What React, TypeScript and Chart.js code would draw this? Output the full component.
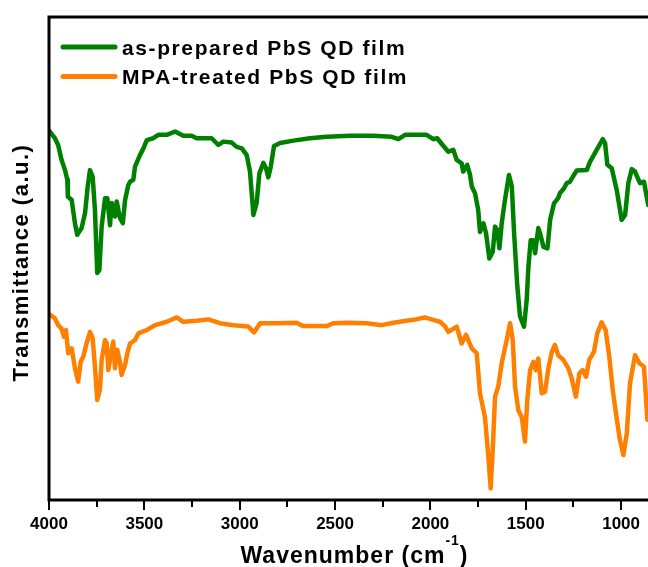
import React, { useEffect, useRef } from "react";
import { Chart, registerables } from "chart.js";

Chart.register(...registerables);

const seriesNames = ["as-prepared PbS QD film", "MPA-treated PbS QD film"];
const seriesColors = ["rgb(0,128,0)", "rgb(255,128,0)"];

const greenWavenumbers = [4000, 3969, 3952, 3934, 3916, 3904, 3901, 3881, 3864, 3852, 3829, 3811, 3797, 3785, 3771, 3759, 3747, 3736, 3724, 3706, 3694, 3680, 3671, 3654, 3645, 3628, 3613, 3601, 3584, 3575, 3558, 3549, 3523, 3505, 3487, 3453, 3427, 3382, 3339, 3296, 3252, 3226, 3147, 3112, 3086, 3042, 3016, 2989, 2963, 2946, 2928, 2911, 2897, 2876, 2862, 2850, 2837, 2820, 2788, 2718, 2632, 2544, 2422, 2299, 2203, 2168, 2133, 2072, 2020, 1985, 1964, 1936, 1906, 1880, 1862, 1836, 1828, 1807, 1792, 1783, 1766, 1749, 1740, 1722, 1708, 1691, 1673, 1661, 1649, 1638, 1626, 1609, 1588, 1573, 1561, 1544, 1530, 1509, 1495, 1486, 1474, 1460, 1451, 1434, 1425, 1407, 1386, 1372, 1352, 1330, 1321, 1300, 1285, 1268, 1247, 1233, 1180, 1163, 1128, 1096, 1084, 1072, 1049, 1023, 997, 979, 962, 944, 927, 901, 880, 858];
const greenValues = [76.5, 74.9, 73.5, 70.4, 68.3, 66.3, 62.8, 62.1, 57.3, 54.9, 56.3, 59.4, 64.9, 68.3, 66.9, 60.0, 47.0, 47.6, 56.6, 62.5, 62.5, 56.9, 61.5, 58.7, 61.8, 58.4, 57.3, 62.1, 65.2, 65.9, 66.3, 69.0, 71.4, 72.8, 74.5, 74.9, 75.6, 75.6, 76.3, 75.4, 75.4, 74.9, 74.9, 73.5, 74.2, 74.0, 73.1, 72.8, 71.4, 68.0, 59.0, 61.5, 67.6, 69.8, 68.7, 66.8, 69.0, 73.3, 73.9, 74.4, 74.9, 75.2, 75.4, 75.4, 75.2, 74.7, 75.6, 75.6, 75.6, 74.7, 74.9, 73.5, 72.1, 72.5, 70.4, 69.7, 68.0, 69.4, 67.3, 64.9, 63.5, 60.0, 55.5, 57.3, 55.2, 50.0, 51.4, 56.6, 55.9, 52.1, 57.3, 62.1, 67.3, 64.9, 55.2, 44.2, 38.0, 35.9, 41.4, 48.3, 53.8, 53.8, 51.1, 56.3, 55.2, 52.4, 52.1, 58.0, 61.4, 62.5, 63.5, 64.5, 65.6, 65.9, 67.3, 68.2, 68.3, 70.0, 72.5, 74.7, 73.9, 69.4, 68.7, 64.2, 58.0, 59.0, 65.6, 68.5, 68.0, 65.6, 65.9, 61.1];

const orangeWavenumbers = [4000, 3969, 3952, 3934, 3922, 3911, 3899, 3881, 3864, 3847, 3834, 3820, 3803, 3785, 3771, 3759, 3747, 3733, 3724, 3706, 3697, 3689, 3676, 3663, 3654, 3642, 3628, 3619, 3601, 3589, 3575, 3549, 3531, 3487, 3444, 3382, 3330, 3296, 3226, 3165, 3103, 3034, 2955, 2925, 2893, 2806, 2702, 2667, 2544, 2509, 2439, 2334, 2255, 2194, 2090, 2029, 1967, 1950, 1924, 1906, 1862, 1836, 1813, 1783, 1757, 1740, 1714, 1696, 1684, 1673, 1661, 1644, 1626, 1600, 1582, 1568, 1556, 1539, 1521, 1504, 1492, 1477, 1460, 1447, 1434, 1416, 1399, 1381, 1363, 1347, 1330, 1303, 1277, 1259, 1237, 1219, 1202, 1184, 1167, 1142, 1125, 1102, 1081, 1062, 1044, 1023, 1006, 988, 970, 953, 927, 904, 880, 862];
const orangeValues = [38.5, 37.6, 36.2, 35.5, 33.8, 35.2, 30.4, 31.4, 27.3, 24.5, 28.6, 29.7, 32.4, 34.8, 33.5, 27.6, 20.7, 22.8, 29.0, 33.1, 32.4, 26.9, 30.0, 32.8, 27.3, 31.1, 28.6, 25.9, 28.0, 30.4, 32.4, 33.1, 34.5, 35.2, 36.2, 36.9, 37.8, 36.9, 37.1, 37.4, 36.6, 36.2, 35.9, 34.7, 36.6, 36.6, 36.7, 36.0, 36.0, 36.6, 36.7, 36.6, 36.2, 36.7, 37.3, 37.8, 37.1, 36.9, 36.0, 34.8, 35.9, 32.4, 34.2, 31.4, 30.4, 22.1, 17.2, 9.0, 2.4, 10.4, 21.4, 23.5, 28.3, 33.1, 36.6, 33.1, 23.5, 18.6, 17.2, 12.1, 20.7, 26.9, 28.6, 26.9, 29.3, 22.1, 22.4, 27.3, 30.7, 32.1, 30.0, 29.0, 27.3, 25.2, 21.4, 26.2, 26.9, 25.5, 29.0, 30.7, 34.5, 36.8, 35.2, 29.7, 22.8, 16.9, 12.4, 9.3, 13.8, 24.2, 30.0, 28.3, 27.6, 16.6];

const majorTicks = [4000, 3500, 3000, 2500, 2000, 1500, 1000];
const minorTicks = [3750, 3250, 2750, 2250, 1750, 1250];
const xTitle = "Wavenumber (cm";
const xTitleSup = "-1";
const xTitleEnd = ")";
const yTitle = "Transmittance (a.u.)";

const FONT = "'Liberation Sans', Arial, sans-serif";

const toPoints = (xs: number[], ys: number[]) =>
  xs.map((x, i) => ({ x, y: ys[i] }));

const decorPlugin = {
  id: "decor",
  afterDraw(chart: any) {
    const { ctx, chartArea } = chart;
    const xs = chart.scales.x;
    const { left, right, top, bottom } = chartArea;
    ctx.save();
    // frame
    ctx.strokeStyle = "#000";
    ctx.lineWidth = 3;
    ctx.strokeRect(left, top, right - left, bottom - top);
    // ticks
    ctx.lineWidth = 2;
    ctx.beginPath();
    majorTicks.forEach((v) => {
      const px = Math.round(xs.getPixelForValue(v));
      ctx.moveTo(px, bottom);
      ctx.lineTo(px, bottom + 10);
    });
    minorTicks.forEach((v) => {
      const px = Math.round(xs.getPixelForValue(v));
      ctx.moveTo(px, bottom);
      ctx.lineTo(px, bottom + 7);
    });
    ctx.stroke();

    // legend
    const legendX0 = left + 14;
    const legendX1 = left + 66;
    const textX = left + 73;
    const rowY = [47, 76.5];
    chart.data.datasets.forEach((ds: any, i: number) => {
      ctx.strokeStyle = ds.borderColor;
      ctx.lineWidth = 5;
      ctx.lineCap = "round";
      ctx.beginPath();
      ctx.moveTo(legendX0, rowY[i]);
      ctx.lineTo(legendX1, rowY[i]);
      ctx.stroke();
      ctx.fillStyle = "#000";
      ctx.font = `bold 21px ${FONT}`;
      (ctx as any).letterSpacing = "1.6px";
      ctx.textAlign = "left";
      ctx.textBaseline = "alphabetic";
      ctx.fillText(ds.label, textX, rowY[i] + 7.5);
    });

    // x title with superscript
    (ctx as any).letterSpacing = "1px";
    ctx.fillStyle = "#000";
    ctx.textBaseline = "alphabetic";
    ctx.textAlign = "left";
    const mainFont = `bold 23px ${FONT}`;
    const supFont = `bold 14px ${FONT}`;
    ctx.font = mainFont;
    const w1 = ctx.measureText(xTitle).width;
    const w3 = ctx.measureText(xTitleEnd).width;
    ctx.font = supFont;
    const w2 = ctx.measureText(xTitleSup).width;
    const total = w1 + w2 + w3;
    const cx = 354.5;
    const base = 563;
    let x0 = cx - total / 2;
    ctx.font = mainFont;
    ctx.fillText(xTitle, x0, base);
    x0 += w1;
    ctx.font = supFont;
    ctx.fillText(xTitleSup, x0, base - 18);
    x0 += w2;
    ctx.font = mainFont;
    ctx.fillText(xTitleEnd, x0, base);

    // y title
    ctx.save();
    (ctx as any).letterSpacing = "1.5px";
    ctx.font = `bold 22px ${FONT}`;
    ctx.translate(28, (top + bottom) / 2 + 4);
    ctx.rotate(-Math.PI / 2);
    ctx.textAlign = "center";
    ctx.textBaseline = "alphabetic";
    ctx.fillText(yTitle, 0, 0);
    ctx.restore();

    ctx.restore();
  },
};

export default function App() {
  const ref = useRef<HTMLCanvasElement | null>(null);

  useEffect(() => {
    if (!ref.current) return;
    const chart = new Chart(ref.current, {
      type: "line",
      data: {
        datasets: [
          {
            label: seriesNames[0],
            data: toPoints(greenWavenumbers, greenValues),
            borderColor: seriesColors[0],
            backgroundColor: seriesColors[0],
            borderWidth: 4.5,
            pointRadius: 0,
            tension: 0,
            borderJoinStyle: "round",
            borderCapStyle: "round",
          },
          {
            label: seriesNames[1],
            data: toPoints(orangeWavenumbers, orangeValues),
            borderColor: seriesColors[1],
            backgroundColor: seriesColors[1],
            borderWidth: 4.5,
            pointRadius: 0,
            tension: 0,
            borderJoinStyle: "round",
            borderCapStyle: "round",
          },
        ],
      },
      options: {
        animation: false,
        responsive: false,
        events: [],
        layout: { padding: { top: 17, right: 8.4, bottom: 0, left: 0 } },
        plugins: {
          legend: { display: false },
          tooltip: { enabled: false },
          title: { display: false },
        },
        scales: {
          x: {
            type: "linear",
            reverse: true,
            min: 840,
            max: 4000,
            grid: { display: false, drawTicks: false },
            border: { display: false },
            afterBuildTicks: (scale: any) => {
              scale.ticks = majorTicks.map((v) => ({ value: v }));
            },
            afterFit: (scale: any) => {
              scale.height = 67;
            },
            ticks: {
              padding: 14.5,
              color: "#000",
              font: { family: FONT, size: 17, weight: "bold" },
              maxRotation: 0,
              autoSkip: false,
              callback: (v: any) => String(v),
            },
          },
          y: {
            type: "linear",
            min: 0,
            max: 100,
            grid: { display: false, drawTicks: false },
            border: { display: false },
            ticks: { display: false },
            afterFit: (scale: any) => {
              scale.width = 49;
            },
          },
        },
      },
      plugins: [decorPlugin],
    } as any);
    return () => chart.destroy();
  }, []);

  return (
    <div
      style={{
        position: "fixed",
        left: 0,
        top: 0,
        width: 648,
        height: 567,
        overflow: "hidden",
        background: "#fff",
      }}
    >
      <canvas ref={ref} width={660} height={567} style={{ display: "block" }} />
    </div>
  );
}
